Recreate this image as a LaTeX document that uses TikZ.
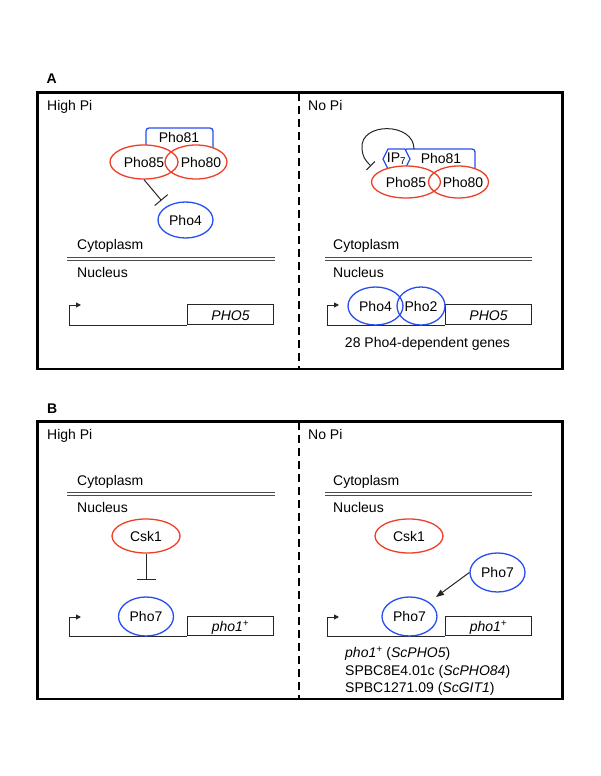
\documentclass[tikz,border=0pt]{standalone}
\usepackage{fontspec}
\setmainfont{Liberation Sans}
\usetikzlibrary{shapes.geometric,arrows.meta}
\definecolor{myred}{RGB}{238,62,40}
\definecolor{myblue}{RGB}{38,78,240}
\begin{document}
\begin{tikzpicture}[x=1pt,y=-1pt,
  every node/.style={font=\fontsize{14}{16}\selectfont, inner sep=0pt},
  frame/.style={line width=2.6pt},
  divider/.style={line width=2.2pt, dash pattern=on 8pt off 5pt},
  redell/.style={ellipse, draw=myred, line width=1.3pt},
  blueell/.style={ellipse, draw=myblue, line width=1.3pt},
  capbox/.style={draw=myblue, line width=1.3pt, rounded corners=3pt},
  membrane/.style={double, draw=black!70, line width=1pt, double distance=2pt},
  dna/.style={line width=1pt, draw=black!85},
  genebox/.style={draw=black!85, line width=1pt, minimum width=86pt, minimum height=20pt, text height=11pt, text depth=0pt, anchor=south west},
  prom/.style={line width=1pt, draw=black!85, -{Triangle[length=5pt,width=5pt]}},
  inhib/.style={line width=1pt, draw=black!85, -{Bar[width=17pt,line width=1pt]}},
  act/.style={line width=1pt, draw=black!85, -{Triangle[length=8pt,width=6pt]}},
  lbl/.style={anchor=base west},
  panel/.style={anchor=base west, font=\bfseries\fontsize{14}{16}\selectfont},
]
\useasboundingbox (0,0) rectangle (600,776);

% ================= Panel A =================
\node[panel] (labA) at (46.5,84) {A};
\draw[frame] (37.5,92.5) rectangle (562.5,369);
\draw[divider] (299.3,93) -- (299.3,368);
\node[lbl] (hiA) at (47,110) {High Pi};
\node[lbl] (noA) at (308,110) {No Pi};

% left: high Pi complex
\draw[capbox] (146,152) |- (213,128) -- (213,152);
\node (p81A) at (179,137) {Pho81};
\fill[white] (144,162) ellipse [x radius=34, y radius=17];
\fill[white] (196,162) ellipse [x radius=31, y radius=17];
\node[redell, minimum width=68pt, minimum height=34pt] (p85A) at (144,162) {Pho85};
\node[redell, minimum width=62pt, minimum height=34pt] (p80A) at (196,162) {\makebox[0pt]{\hspace*{10pt}Pho80}};
\node[blueell, minimum width=55pt, minimum height=36pt] (p4A) at (185.5,220) {Pho4};
\coordinate (inhA) at (161.5,200.5);
\draw[inhib] (p85A.south) -- (inhA);

\node[lbl] (cytA1) at (77,249) {Cytoplasm};
\draw[membrane] (67,259) -- (275,259);
\node[lbl] (nucA1) at (77,277) {Nucleus};

\coordinate (tssA1) at (69,325);
\coordinate (prA1) at (81,305);
\node[genebox] (gA1) at (187,325) {\itshape PHO5};
\draw[dna] (tssA1) -- (gA1.south west);
\draw[prom] (tssA1) |- (prA1);

% right: no Pi complex
\draw[capbox] (404,152) |- (475,149) -- (475,170);
\node (p81B) at (441,158.3) {Pho81};
\coordinate (ip7c) at (396.5,159);
\draw[myblue, fill=white, line width=1.3pt] (383,159) -- (388,149) -- (405,149) -- (410,159) -- (405,169) -- (388,169) -- cycle;
\node (ip7) at (ip7c) {IP\textsubscript{7}};
\fill[white] (406,182) ellipse [x radius=34.5, y radius=16];
\fill[white] (458.5,182) ellipse [x radius=30, y radius=16];
\node[redell, minimum width=69pt, minimum height=32pt] (p85B) at (406,182) {Pho85};
\node[redell, minimum width=60pt, minimum height=32pt] (p80B) at (458.5,182) {\makebox[0pt]{\hspace*{9pt}Pho80}};
\coordinate (arcS) at (414,149);
\coordinate (arcE) at (371,166);
\draw[line width=1pt, draw=black!85, -{Bar[width=12pt,line width=1pt]}] (arcS) .. controls (414,122) and (360,122) .. (362,148) .. controls (362.5,157) and (365,160) .. (arcE);

\node[lbl] (cytA2) at (333,249) {Cytoplasm};
\draw[membrane] (325,259) -- (532,259);
\node[lbl] (nucA2) at (333,277) {Nucleus};

\coordinate (tssA2) at (327,325);
\coordinate (prA2) at (339,305);
\node[genebox] (gA2) at (445,325) {\itshape PHO5};
\draw[dna] (tssA2) -- (gA2.south west);
\draw[prom] (tssA2) |- (prA2);
\node[blueell, minimum width=55pt, minimum height=38pt] (p4B) at (375.5,306) {Pho4};
\node[blueell, minimum width=48pt, minimum height=38pt] (p2B) at (421,306) {Pho2};
\node[anchor=base] (genesA) at (427.5,347.3) {28 Pho4-dependent genes};

% ================= Panel B =================
\node[panel] (labB) at (47,413.3) {B};
\draw[frame] (37.5,421.5) rectangle (562.5,699);
\draw[divider] (299.3,422) -- (299.3,698);
\node[lbl] (hiB) at (47,439) {High Pi};
\node[lbl] (noB) at (308,439) {No Pi};

\node[lbl] (cytB1) at (77,485) {Cytoplasm};
\draw[membrane] (67,494) -- (275,494);
\node[lbl] (nucB1) at (77,512) {Nucleus};
\node[lbl] (cytB2) at (333,485) {Cytoplasm};
\draw[membrane] (325,494) -- (532,494);
\node[lbl] (nucB2) at (333,512) {Nucleus};

% left
\node[redell, minimum width=68pt, minimum height=34pt] (cskL) at (146,536) {Csk1};
\coordinate (barL) at (146,580);
\draw[inhib, -{Bar[width=19pt,line width=1pt]}] (cskL.south) -- (barL);
\coordinate (tssB1) at (69,636);
\coordinate (prB1) at (81,617);
\node[genebox, minimum height=19pt] (gB1) at (187,636) {\itshape pho1\textsuperscript{+}};
\draw[dna] (tssB1) -- (gB1.south west);
\draw[prom] (tssB1) |- (prB1);
\node[blueell, minimum width=55pt, minimum height=39pt] (p7L) at (146,616.5) {Pho7};

% right
\node[redell, minimum width=68pt, minimum height=34pt] (cskR) at (409,536) {Csk1};
\node[blueell, minimum width=55pt, minimum height=39pt] (p7F) at (497.5,572.5) {Pho7};
\coordinate (tssB2) at (327,636);
\coordinate (prB2) at (339,617);
\node[genebox, minimum height=19pt] (gB2) at (445,636) {\itshape pho1\textsuperscript{+}};
\draw[dna] (tssB2) -- (gB2.south west);
\draw[prom] (tssB2) |- (prB2);
\node[blueell, minimum width=55pt, minimum height=39pt] (p7R) at (409.5,616.5) {Pho7};
\coordinate (actE) at (436,597);
\draw[act] (p7F.west) -- (actE);

\node[lbl] (t1) at (345,657.7) {\itshape pho1\textsuperscript{+}\upshape{} (\itshape ScPHO5\upshape)};
\node[lbl] (t2) at (345,675.3) {SPBC8E4.01c (\itshape ScPHO84\upshape)};
\node[lbl] (t3) at (345,692.3) {SPBC1271.09 (\itshape ScGIT1\upshape)};
\end{tikzpicture}
\end{document}
